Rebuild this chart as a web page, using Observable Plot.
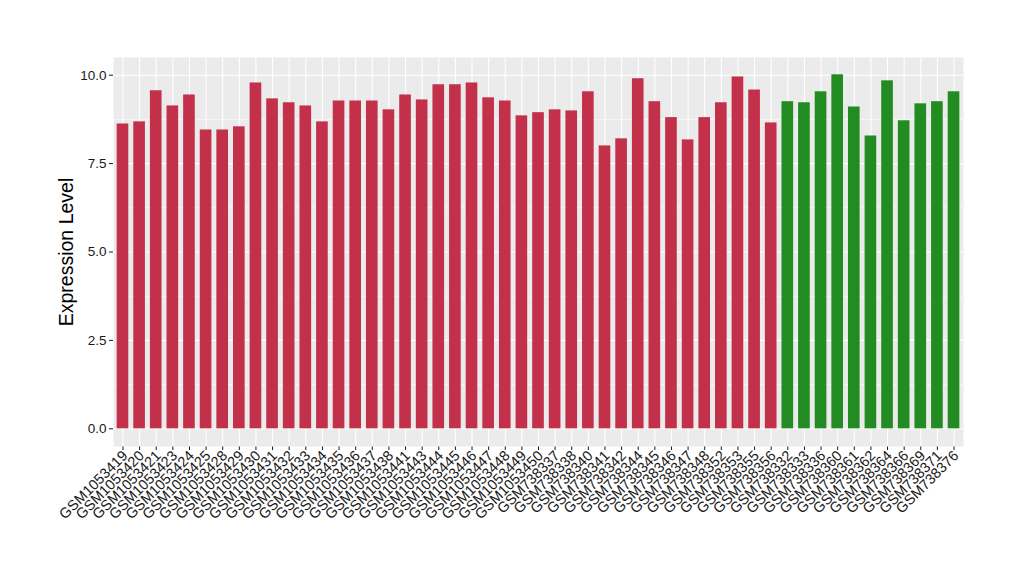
<!DOCTYPE html>
<html>
<head>
<meta charset="utf-8">
<script src="https://cdn.jsdelivr.net/npm/d3@7"></script>
<script src="https://cdn.jsdelivr.net/npm/@observablehq/plot@0.6"></script>
<style>
  html, body { margin: 0; padding: 0; background: white; }
</style>
</head>
<body>
<div id="chart"></div>
<script>
const samples = [
  "GSM1053419","GSM1053420","GSM1053421","GSM1053423","GSM1053424","GSM1053425","GSM1053428","GSM1053429",
  "GSM1053430","GSM1053431","GSM1053432","GSM1053433","GSM1053434","GSM1053435","GSM1053436","GSM1053437",
  "GSM1053438","GSM1053441","GSM1053443","GSM1053444","GSM1053445","GSM1053446","GSM1053447","GSM1053448",
  "GSM1053449","GSM1053450","GSM738337","GSM738338","GSM738340","GSM738341","GSM738342","GSM738344",
  "GSM738345","GSM738346","GSM738347","GSM738348","GSM738352","GSM738353","GSM738355","GSM738356",
  "GSM738332","GSM738333","GSM738336","GSM738360","GSM738361","GSM738362","GSM738364","GSM738366",
  "GSM738369","GSM738371","GSM738376"
];
const values = [
  8.62, 8.68, 9.56, 9.13, 9.44, 8.45, 8.45, 8.54,
  9.78, 9.33, 9.22, 9.13, 8.68, 9.27, 9.27, 9.27,
  9.02, 9.44, 9.30, 9.73, 9.73, 9.78, 9.36, 9.27,
  8.85, 8.94, 9.02, 8.99, 9.53, 8.00, 8.20, 9.90,
  9.25, 8.80, 8.17, 8.80, 9.22, 9.95, 9.58, 8.65,
  9.25, 9.22, 9.53, 10.01, 9.10, 8.28, 9.84, 8.71,
  9.19, 9.25, 9.53
];
const groups = [
  ...Array(40).fill("A"),
  ...Array(11).fill("B")
];
const groupColors = {A: "#c3304a", B: "#228b22"};
const yTicks = [0, 2.5, 5, 7.5, 10];
const yMinor = [1.25, 3.75, 6.25, 8.75];

const data = samples.map((s, i) => ({sample: s, value: values[i], group: groups[i]}));

const chart = Plot.plot({
  width: 1020,
  height: 580,
  marginLeft: 113,
  marginRight: 57,
  marginTop: 57,
  marginBottom: 134,
  style: {fontFamily: "'Liberation Sans', Arial, sans-serif", fontSize: "13.5px", color: "#1a1a1a", background: "white"},
  x: {domain: samples, paddingInner: 0.3, paddingOuter: 0.22, tickRotate: -45, tickSize: 4, tickPadding: 5, label: null},
  y: {domain: [-0.5, 10.5], ticks: yTicks, tickFormat: d3.format(".1f"), tickSize: 4, tickPadding: 3, label: null},
  marks: [
    Plot.frame({fill: "#ebebeb", stroke: "none"}),
    Plot.ruleY(yMinor, {stroke: "white", strokeWidth: 0.55}),
    Plot.ruleY(yTicks, {stroke: "white", strokeWidth: 1.1}),
    Plot.ruleX(samples, {x: d => d, stroke: "white", strokeWidth: 1.1}),
    Plot.barY(data, {x: "sample", y: "value", fill: d => groupColors[d.group]}),
    Plot.text(["Expression Level"], {text: d => d, frameAnchor: "left", textAnchor: "middle", rotate: -90, dx: -47, fontSize: 19.5, fill: "black"})
  ]
});
// enlarge x tick labels slightly, as in the reference
d3.select(chart).selectAll('g[aria-label^="x-axis"]').attr("font-size", 14.5).style("font-size", "14.5px");
d3.select(chart).selectAll('g[aria-label^="x-axis"] text').attr("dx", 3);
document.getElementById("chart").appendChild(chart);
</script>
</body>
</html>
